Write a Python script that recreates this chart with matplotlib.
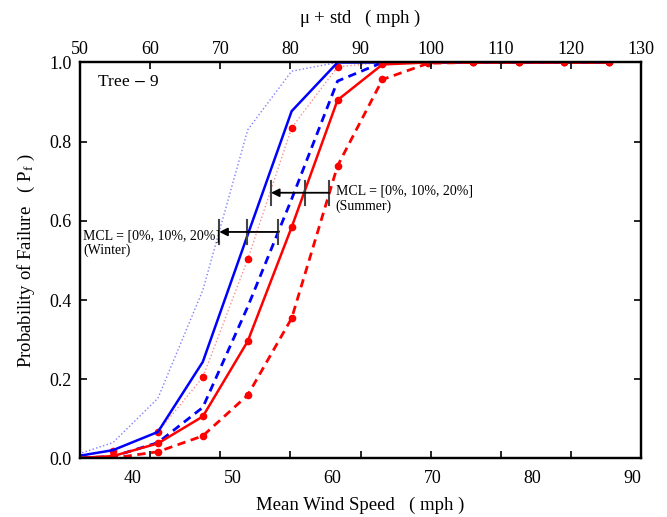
import numpy as np
import matplotlib.pyplot as plt

plt.rcParams['font.family'] = ['Liberation Serif', 'DejaVu Serif']
plt.rcParams['mathtext.fontset'] = 'stix'

# Mean wind speed (mph) at which each failure probability was evaluated
mean_speed = [33.5, 38.0, 42.5, 47.0, 51.5, 55.9, 60.5, 65.0, 69.6, 74.1, 78.7, 83.2, 87.7]

# Winter curves, MCL = 0%, 10%, 20%
winter_0 = [0.0, 0.005, 0.04, 0.129, 0.383, 0.655, 0.953, 1.0, 1.0, 1.0, 1.0, 1.0, 1.0]
winter_10 = [0.002, 0.021, 0.067, 0.244, 0.565, 0.877, 1.0, 1.0, 1.0, 1.0, 1.0, 1.0, 1.0]
winter_20 = [0.003, 0.04, 0.152, 0.425, 0.83, 0.978, 1.0, 1.0, 1.0, 1.0, 1.0, 1.0, 1.0]

# Summer curves, MCL = 0%, 10%, 20%
summer_0 = [0.0, 0.001, 0.017, 0.057, 0.16, 0.354, 0.739, 0.957, 0.998, 1.0, 1.0, 1.0, 1.0]
summer_10 = [0.0, 0.006, 0.038, 0.106, 0.296, 0.584, 0.905, 0.995, 1.0, 1.0, 1.0, 1.0, 1.0]
summer_20 = [0.001, 0.02, 0.067, 0.205, 0.503, 0.835, 0.989, 1.0, 1.0, 1.0, 1.0, 1.0, 1.0]

# Shift of the curves at a given Pf (MCL 0% -> 10% -> 20%)
winter_shift = [54.5, 51.4, 48.65]
winter_level = 0.572
summer_shift = [59.67, 57.24, 53.83]
summer_level = 0.671

bottom_ticks = [40, 50, 60, 70, 80, 90]
top_ticks = [50, 60, 70, 80, 90, 100, 110, 120, 130]
y_ticks = [0.0, 0.2, 0.4, 0.6, 0.8, 1.0]

mean_lim = (34.7, 90.9)
top_lim = (50, 130)

def top_to_mean(v):
    return mean_lim[0] + (v - top_lim[0]) / (top_lim[1] - top_lim[0]) * (mean_lim[1] - mean_lim[0])

fig = plt.figure(figsize=(6.67, 5.17), dpi=100)
ax = fig.add_axes([0.12, 0.1132, 0.841, 0.766])

ax.plot(mean_speed, winter_20, ':', color='#7f7fff', lw=1.0)
ax.plot(mean_speed, summer_20, ':', color='#ff8c8c', lw=1.0, marker='o', ms=4.5,
        mfc='red', mec='red')
ax.plot(mean_speed, winter_0, color='blue', lw=2.0, ls=(0, (3, 2)))
ax.plot(mean_speed, winter_10, color='blue', lw=1.8)
ax.plot(mean_speed, summer_0, color='red', lw=2.0, ls=(0, (3, 2)), marker='o', ms=4.5)
ax.plot(mean_speed, summer_10, color='red', lw=1.8, marker='o', ms=4.5)

# arrows showing the shift of the curves
for shift, level in [(winter_shift, winter_level), (summer_shift, summer_level)]:
    ax.annotate('', xy=(shift[2], level), xytext=(shift[0], level),
                arrowprops=dict(arrowstyle='-|>', color='black', lw=1.3,
                                mutation_scale=12, shrinkA=0, shrinkB=0))
    for s in shift:
        ax.plot([s, s], [level - 0.03, level + 0.03], color='#444444', lw=1.5)

ax.text(35.0, 0.544, 'MCL = [0%, 10%, 20%]\n(Winter)', fontsize=10,
        va='center', ha='left', linespacing=1.15)
ax.text(60.3, 0.656, 'MCL = [0%, 10%, 20%]\n(Summer)', fontsize=10,
        va='center', ha='left', linespacing=1.15)
ax.text(36.4, 0.95, 'Tree $-$ 9', fontsize=12.5, va='center', ha='left')

ax.set_xlim(*mean_lim)
ax.set_ylim(0, 1)
# tick marks follow the upper scale, labels follow the mean speed
ax.set_xticks([top_to_mean(t) for t in top_ticks])
ax.set_xticklabels([])
ax.set_xticks(bottom_ticks, minor=True)
ax.set_xticklabels([str(t) for t in bottom_ticks], minor=True)
ax.tick_params(axis='x', which='major', direction='in', length=5, width=1.2)
ax.tick_params(axis='x', which='minor', length=0, labelsize=13, pad=8)
ax.set_yticks(y_ticks)
ax.set_yticklabels(['%.1f' % v for v in y_ticks])
ax.tick_params(axis='y', direction='in', left=True, right=True, length=5,
               width=1.2, labelsize=13, pad=6)
ax.set_xlabel('Mean Wind Speed   ( mph )', fontsize=13.5, labelpad=7)
ax.set_ylabel('Probability of Failure   ( P$_\\mathregular{f}$ )', fontsize=13.5, labelpad=9)

# upper axis in terms of mean + standard deviation
ax2 = ax.twiny()
ax2.set_xlim(*top_lim)
ax2.set_xticks(top_ticks)
ax2.tick_params(axis='x', direction='in', length=5, width=1.2, labelsize=13)
ax2.set_xlabel('$\\mathregular{\\mu}$ + std   ( mph )', fontsize=13.5, labelpad=13)

for a in (ax, ax2):
    for sp in a.spines.values():
        sp.set_linewidth(1.6)

fig.savefig('out.png', dpi=100)
